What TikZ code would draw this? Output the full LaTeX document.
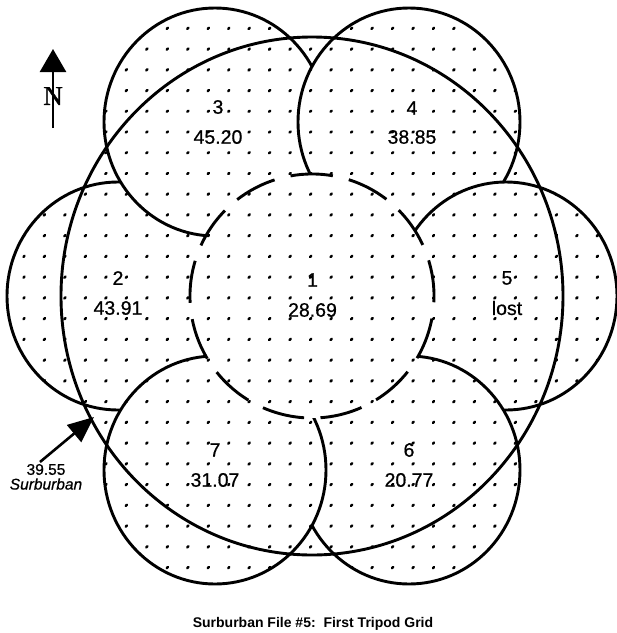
\documentclass[tikz,border=0pt]{standalone}
\usepackage{fontspec}
\setmainfont{Liberation Sans}
\newfontfamily\heavy{Liberation Sans}[FakeBold=0.7]
\newfontfamily\heavyit{Liberation Sans Italic}[FakeBold=0.7]
\newfontfamily\serifN{Liberation Serif}[FakeBold=1.2]
\usetikzlibrary{arrows.meta}
\begin{document}
\begin{tikzpicture}[x=1pt,y=-1pt,
  outl/.style={line width=2.9pt},
  petal/.style={outl, fill=white},
  lbl/.style={inner sep=0pt, font=\heavy\fontsize{19.5}{20}\selectfont},
  small/.style={inner sep=0pt, font=\heavy\fontsize{15.5}{16}\selectfont},
  dotmark/.style={line width=2.5pt, line cap=round},
  pointer/.style={line width=2.6pt}]
\useasboundingbox (0,0) rectangle (617,633);
\fill[white] (0,0) rectangle (617,633);
% centres
\coordinate (C) at (312,296);
\coordinate (p2) at (118,296);
\coordinate (p3) at (215,122);
\coordinate (p4) at (409,122);
\coordinate (p5) at (506,296);
\coordinate (p6) at (409,470);
\coordinate (p7) at (215,470);
% petals
\foreach \p in {p2,p3,p4,p5,p6,p7}{
  \draw[petal] (\p) ellipse [x radius=111, y radius=114];
}
\fill[white] (C) circle [radius=122];
% dot screen
\begin{scope}
  \clip (p2) ellipse [x radius=111, y radius=114]
        (p3) ellipse [x radius=111, y radius=114]
        (p4) ellipse [x radius=111, y radius=114]
        (p5) ellipse [x radius=111, y radius=114]
        (p6) ellipse [x radius=111, y radius=114]
        (p7) ellipse [x radius=111, y radius=114]
        (C) ellipse [x radius=251, y radius=259];
  \foreach \i in {-1,...,28}{
    \foreach \j in {-1,...,26}{
      \draw[dotmark] ({24+20.475*\i-0.6},{28.3+20.74*\j+0.6}) -- ++(1.2,-1.2);
    }
  }
\end{scope}
% big outline
\draw[outl] (C) ellipse [x radius=251, y radius=259];
% central dashed circle
\draw[outl, dash pattern=on 42.5pt off 16.46pt] (C) ++(-72.4:122) arc [start angle=-72.4, delta angle=360, radius=122];
% labels
\node[lbl] (n3) at (218,107) {3};
\node[lbl] (v3) at (218,137) {45.20};
\node[lbl] (n4) at (412,108) {4};
\node[lbl] (v4) at (412,137) {38.85};
\node[lbl] (n2) at (118,278) {2};
\node[lbl] (v2) at (118,308) {43.91};
\node[lbl] (n1) at (312.5,280) {1};
\node[lbl] (v1) at (312.5,310) {28.69};
\node[lbl] (n5) at (507,278) {5};
\node[lbl] (v5) at (507,308) {lost};
\node[lbl] (n7) at (215,450) {7};
\node[lbl] (v7) at (215,480) {31.07};
\node[lbl] (n6) at (409,450) {6};
\node[lbl] (v6) at (409,480) {20.77};
% north arrow
\coordinate (ntail) at (53,128);
\coordinate (ntip) at (53,49);
\draw[pointer, -{Triangle[length=23pt,width=26pt]}] (ntail) -- (ntip);
\node[inner sep=0pt, font=\serifN\fontsize{27}{27}\selectfont] (nlab) at (53,96) {N};
% suburban pointer
\node[small] (sv) at (46,469.5) {39.55};
\node[small, font=\heavyit\fontsize{15.5}{16}\selectfont] (sname) at (46,484) {Surburban};
\coordinate (atail) at (40,462);
\coordinate (atip) at (94,417);
\draw[pointer, -{Triangle[length=26pt,width=22pt]}] (atail) -- (atip);
% caption
\node[inner sep=0pt, anchor=base, font=\bfseries\fontsize{14}{14}\selectfont] (cap) at (313,627) {Surburban File \#5:\ \ First Tripod Grid};
\end{tikzpicture}
\end{document}
